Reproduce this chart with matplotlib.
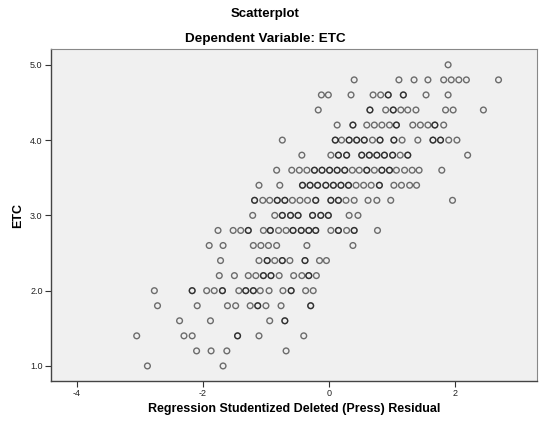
import matplotlib
matplotlib.use("Agg")
import matplotlib.pyplot as plt

plt.rcParams['font.family'] = ['Liberation Sans', 'DejaVu Sans']

# Studentized deleted residuals for each ETC level (repeated values = coincident points)
resid_50 = [1.89]
resid_48 = [0.40, 1.11, 1.35, 1.57, 1.82, 1.94, 2.06, 2.18, 2.69]
resid_46 = [-0.12, -0.01, 0.35, 0.70, 0.82, 0.94, 0.94, 1.18, 1.18, 1.54, 1.89]
resid_44 = [-0.17, 0.65, 0.65, 0.90, 1.02, 1.02, 1.14, 1.25, 1.38, 1.85, 1.97, 2.45]
resid_42 = [0.13, 0.38, 0.38, 0.60, 0.72, 0.84, 0.96, 1.07, 1.07, 1.33, 1.45, 1.57,
            1.68, 1.68, 1.82]
resid_40 = [-0.74, 0.10, 0.10, 0.20, 0.32, 0.32, 0.44, 0.44, 0.56, 0.56, 0.69, 0.81,
            0.81, 1.03, 1.03, 1.16, 1.41, 1.65, 1.65, 1.77, 1.77, 1.90, 2.03]
resid_38 = [-0.43, 0.03, 0.15, 0.15, 0.28, 0.28, 0.52, 0.52, 0.64, 0.64, 0.76, 0.76,
            0.88, 0.88, 1.01, 1.01, 1.13, 1.25, 1.25, 2.20]
resid_36 = [-0.83, -0.59, -0.47, -0.35, -0.23, -0.23, -0.11, -0.11, 0.01, 0.01, 0.13,
            0.13, 0.25, 0.25, 0.37, 0.48, 0.60, 0.60, 0.72, 0.84, 0.84, 0.96, 0.96,
            1.07, 1.20, 1.32, 1.43, 1.79]
resid_34 = [-1.11, -0.78, -0.42, -0.42, -0.30, -0.30, -0.18, -0.18, -0.05, -0.05, 0.07,
            0.07, 0.19, 0.19, 0.31, 0.31, 0.43, 0.55, 0.67, 0.80, 0.80, 1.03, 1.15,
            1.28, 1.39]
resid_32 = [-1.18, -1.18, -1.05, -0.94, -0.82, -0.82, -0.70, -0.70, -0.58, -0.46, -0.34,
            -0.21, -0.21, 0.03, 0.03, 0.15, 0.15, 0.27, 0.40, 0.62, 0.76, 0.98, 1.96]
resid_30 = [-1.21, -0.86, -0.74, -0.74, -0.61, -0.61, -0.49, -0.49, -0.26, -0.26, -0.13,
            -0.13, -0.01, -0.01, 0.32, 0.46]
resid_28 = [-1.76, -1.52, -1.40, -1.28, -1.28, -1.04, -0.93, -0.93, -0.80, -0.68, -0.57,
            -0.57, -0.44, -0.44, -0.32, -0.32, -0.21, -0.21, 0.03, 0.15, 0.15, 0.28,
            0.40, 0.40, 0.77]
resid_26 = [-1.90, -1.68, -1.20, -1.08, -0.96, -0.83, -0.35, 0.38]
resid_24 = [-1.72, -1.11, -0.98, -0.98, -0.86, -0.74, -0.74, -0.62, -0.38, -0.38, -0.15,
            -0.04]
resid_22 = [-1.74, -1.50, -1.28, -1.16, -1.04, -1.04, -0.92, -0.92, -0.79, -0.56, -0.43,
            -0.32, -0.32, -0.20]
resid_20 = [-2.77, -2.17, -2.17, -1.94, -1.82, -1.69, -1.69, -1.43, -1.32, -1.32, -1.20,
            -1.20, -1.09, -0.95, -0.73, -0.60, -0.60, -0.37, -0.25]
resid_18 = [-2.72, -2.09, -1.61, -1.48, -1.25, -1.13, -1.13, -1.00, -0.76, -0.29, -0.29]
resid_16 = [-2.37, -1.88, -0.94, -0.70, -0.70]
resid_14 = [-3.05, -2.30, -2.17, -1.45, -1.45, -1.11, -0.40]
resid_12 = [-2.10, -1.87, -1.62, -0.68]
resid_10 = [-2.88, -1.68]

etc_levels = [5.0, 4.8, 4.6, 4.4, 4.2, 4.0, 3.8, 3.6, 3.4, 3.2, 3.0,
              2.8, 2.6, 2.4, 2.2, 2.0, 1.8, 1.6, 1.4, 1.2, 1.0]
resid_rows = [resid_50, resid_48, resid_46, resid_44, resid_42, resid_40, resid_38,
              resid_36, resid_34, resid_32, resid_30, resid_28, resid_26, resid_24,
              resid_22, resid_20, resid_18, resid_16, resid_14, resid_12, resid_10]

x_ticks = [-4, -2, 0, 2]
y_ticks = [1.0, 2.0, 3.0, 4.0, 5.0]

xs, ys = [], []
for lvl, row in zip(etc_levels, resid_rows):
    xs.extend(row)
    ys.extend([lvl] * len(row))

fig = plt.figure(figsize=(5.4, 4.25), dpi=100)
ax = fig.add_axes([0.0944, 0.1035, 0.9000, 0.7812])
ax.set_facecolor('#F0F0F0')

ax.scatter(xs, ys, s=17, facecolors='none', edgecolors=(0, 0, 0, 0.55),
           linewidths=1.0, zorder=3)

ax.set_xlim(-4.41, 3.30)
ax.set_ylim(0.80, 5.21)
ax.set_xticks(x_ticks)
ax.set_xticklabels([str(t) for t in x_ticks])
ax.set_yticks(y_ticks)
ax.set_yticklabels(['%.1f' % t for t in y_ticks])
ax.tick_params(axis='both', direction='out', length=4, width=0.8, colors='#333333',
               labelsize=6.5, labelcolor='#222222', pad=2)

for side in ['top', 'right']:
    ax.spines[side].set_color('#888888')
    ax.spines[side].set_linewidth(0.8)
for side in ['left', 'bottom']:
    ax.spines[side].set_color('#444444')
    ax.spines[side].set_linewidth(1.0)

ax.set_xlabel('Regression Studentized Deleted (Press) Residual', fontsize=9,
              fontweight='bold', labelpad=3)
ax.set_ylabel('ETC', fontsize=9, fontweight='bold', labelpad=4)

fig.text(0.4907, 0.968, 'Scatterplot', ha='center', va='center', fontsize=9.5,
         fontweight='bold')
fig.text(0.4907, 0.908, 'Dependent Variable: ETC', ha='center', va='center',
         fontsize=9.7, fontweight='bold')

fig.savefig('out.png', dpi=100, facecolor='white')
